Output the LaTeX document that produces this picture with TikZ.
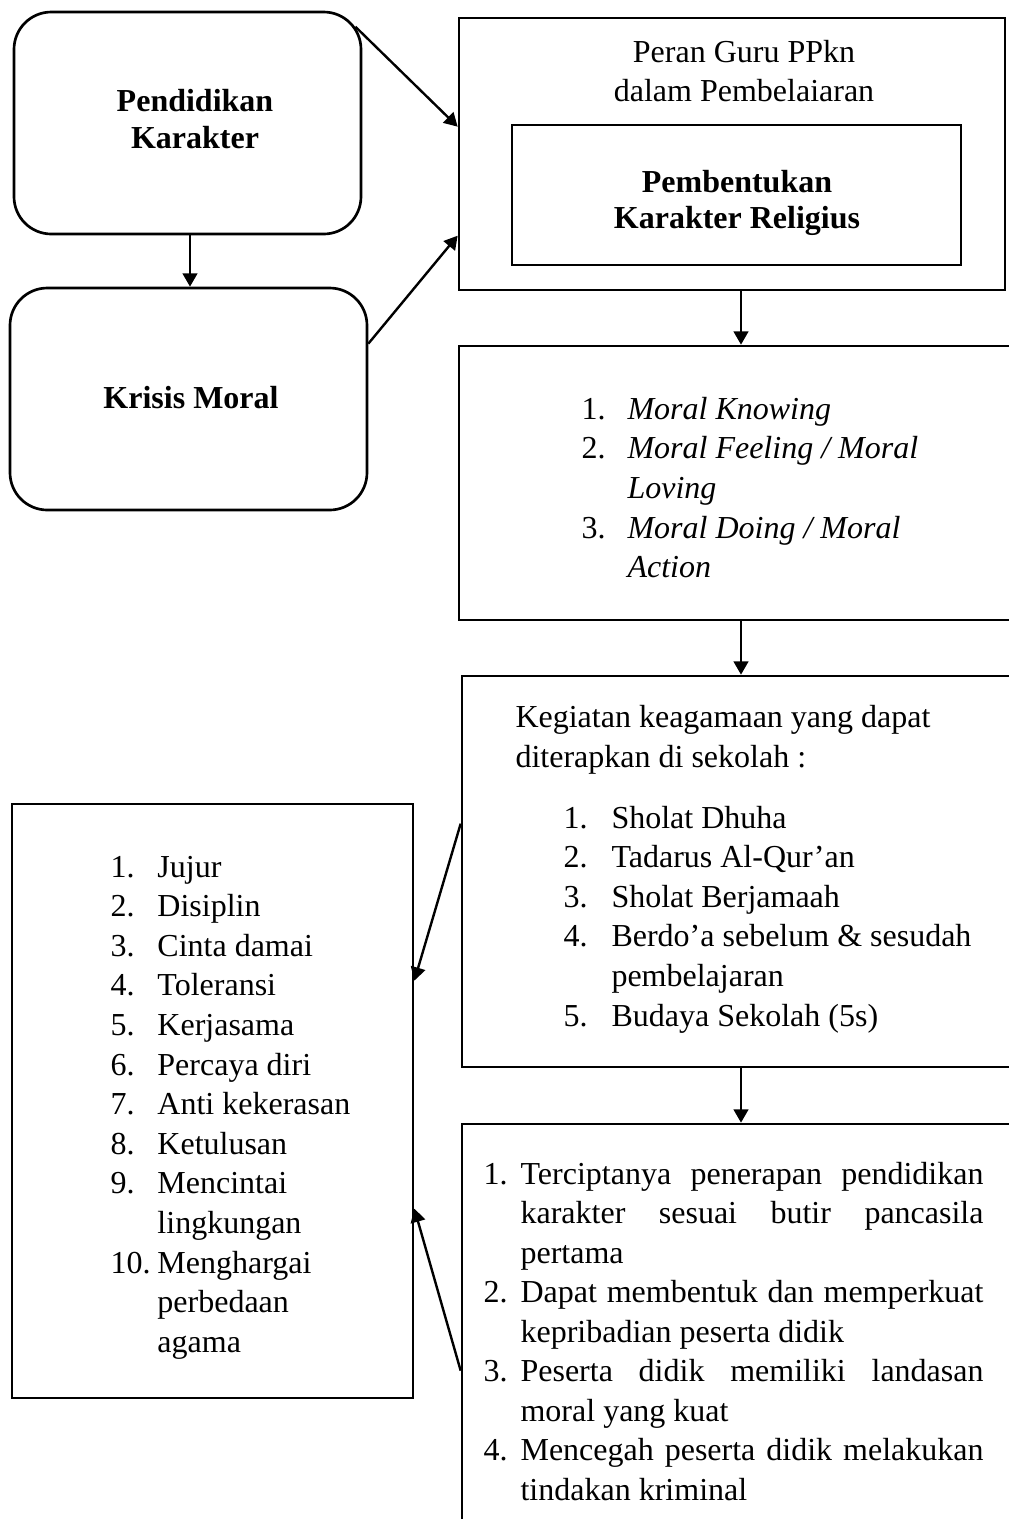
\documentclass[tikz,border=0pt]{standalone}
\usepackage{fontspec}
\setmainfont{Liberation Serif}
\usetikzlibrary{arrows.meta,calc,fit}

\tikzset{
  every node/.style={font=\fontsize{12}{14.85}\selectfont, inner sep=0pt},
  kotak/.style={draw, line width=1pt},
  bulat/.style={kotak, rounded corners=14pt},
  tebal/.style={font=\fontsize{12}{14.85}\selectfont\bfseries},
  baris/.style={anchor=base west},
  panah/.style={-{Triangle[length=5pt,width=5.5pt]}, line width=0.9pt},
}

\begin{document}
\begin{tikzpicture}[x=0.375pt, y=-0.375pt]
  \clip (0,0) rectangle (1009,1519);

  % === kotak-kotak ===
  \node[bulat, fit={(14,12) (361,234)}]   (pend)   {};
  \node[bulat, fit={(10,288) (367,510)}]  (kris)   {};
  \node[kotak, fit={(459,18) (1005,290)}] (peran)  {};
  \node[kotak, fit={(512,125) (961,265)}] (bentuk) {};
  \node[kotak, fit={(459,346) (1040,620)}]   (moral) {};
  \node[kotak, fit={(462,676) (1040,1067)}]  (keg)   {};
  \node[kotak, fit={(462,1124) (1040,1560)}] (hasil) {};
  \node[kotak, fit={(12,804) (413,1398)}]    (nilai) {};

  % === judul kotak ===
  \node[tebal, anchor=base] (pend-a)   at (195,111) {Pendidikan};
  \node[tebal, anchor=base] (pend-b)   at (195,148) {Karakter};
  \node[tebal, anchor=base] (kris-a)   at (191,408) {Krisis Moral};
  \node[anchor=base]        (peran-a)  at (744,62)  {Peran Guru PPkn};
  \node[anchor=base]        (peran-b)  at (744,101) {dalam Pembelaiaran};
  \node[tebal, anchor=base] (bentuk-a) at (737,192) {Pembentukan};
  \node[tebal, anchor=base] (bentuk-b) at (737,228) {Karakter Religius};

  % === isi: moral ===
  \foreach \n/\t [count=\k from 0] in {1./Moral Knowing, 2./{Moral Feeling / Moral}, /Loving,
      3./{Moral Doing / Moral}, /Action}
    \node[baris] (moral-\k) at (581,419+39.7*\k) {\makebox[17.25pt][l]{\n}\textit{\t}};

  % === isi: kegiatan ===
  \node[baris] (keg-a) at (515,727) {Kegiatan keagamaan yang dapat};
  \node[baris] (keg-b) at (515,767) {diterapkan di sekolah :};
  \foreach \n/\t [count=\k from 0] in {1./Sholat Dhuha, 2./Tadarus Al-Qur’an, 3./Sholat Berjamaah,
      4./Berdo’a sebelum \& sesudah, /pembelajaran, 5./Budaya Sekolah (5s)}
    \node[baris] (keg-\k) at (563,828+39.6*\k) {\makebox[18pt][l]{\n}\t};

  % === isi: nilai karakter ===
  \foreach \n/\t [count=\k from 0] in {1./Jujur, 2./Disiplin, 3./Cinta damai, 4./Toleransi,
      5./Kerjasama, 6./Percaya diri, 7./Anti kekerasan, 8./Ketulusan, 9./Mencintai,
      /lingkungan, 10./Menghargai, /perbedaan, /agama}
    \node[baris] (nilai-\k) at (110,877+39.6*\k) {\makebox[17.6pt][l]{\n}\t};

  % === isi: hasil (rata kiri-kanan) ===
  \foreach \n/\t/\p [count=\k from 0] in {1./Terciptanya penerapan pendidikan/s,
      /karakter sesuai butir pancasila/s, /pertama/l,
      2./Dapat membentuk dan memperkuat/s, /kepribadian peserta didik/l,
      3./Peserta didik memiliki landasan/s, /moral yang kuat/l,
      4./Mencegah peserta didik melakukan/s, /tindakan kriminal/l}
    \node[baris] (hasil-\k) at (483,1184+39.5*\k) {\makebox[13.9pt][l]{\n}\makebox[173.6pt][\p]{\t}};

  % === panah ===
  \coordinate (kiri)   at (190,0);
  \coordinate (tengah) at (741,0);
  \draw[panah] (pend.south -| kiri) -- (kris.north -| kiri);
  \draw[panah] ($(pend.north east)+(-7,16)$) -- ($(peran.north west)+(0,110)$);
  \draw[panah] ($(kris.north east)+(0,57)$)  -- ($(peran.north west)+(0,219)$);
  \draw[panah] (peran.south -| tengah) -- (moral.north -| tengah);
  \draw[panah] (moral.south -| tengah) -- (keg.north -| tengah);
  \draw[panah] (keg.south -| tengah)   -- (hasil.north -| tengah);
  \draw[panah] ($(keg.north west)+(0,149)$)   -- ($(nilai.north east)+(0,178)$);
  \draw[panah] ($(hasil.north west)+(0,248)$) -- ($(nilai.north east)+(0,406)$);
\end{tikzpicture}
\end{document}
